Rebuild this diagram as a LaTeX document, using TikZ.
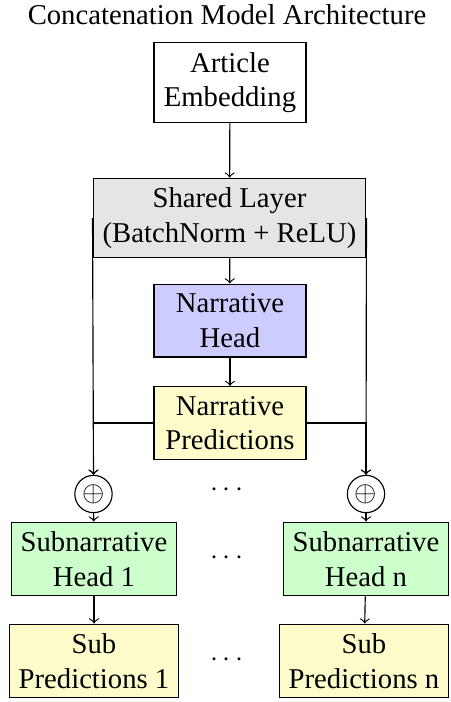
\documentclass[tikz,border=0pt]{standalone}
\usepackage{fontspec}
\setmainfont{Liberation Serif}
\begin{document}
\begin{tikzpicture}[x=0.3484pt,y=-0.3484pt,
  box/.style={draw, align=center, inner sep=3.33pt},
  midbox/.style={box, minimum width=53pt},
  shared/.style={box, fill=gray!20},
  nhead/.style={midbox, fill=blue!20},
  pred/.style={box, fill=yellow!20},
  shead/.style={box, fill=green!20},
  plus/.style={draw, circle, minimum size=13pt, inner sep=0pt},
  arr/.style={->},
  dots/.style={inner sep=0pt}]
  \useasboundingbox (0,0) rectangle (450,702);
  \node (title) at (227,15) {Concatenation Model Architecture};
  \node[midbox] (art) at (230,82.5) {Article\\Embedding};
  \node[shared] (sh) at (229.5,218) {Shared Layer\\(BatchNorm + ReLU)};
  \node[nhead] (nh) at (230,320.5) {Narrative\\Head};
  \node[pred, minimum width=53pt] (np) at (230,423) {Narrative\\Predictions};
  \node[plus] (p1) at (93.5,494) {$\oplus$};
  \node[plus] (pn) at (366,494) {$\oplus$};
  \node[dots] (d1) at (227,490) {$\cdots$};
  \node[shead] (s1) at (94,559) {Subnarrative\\Head 1};
  \node[shead] (sn) at (366,559) {Subnarrative\\Head n};
  \node[dots] (d2) at (227,558) {$\cdots$};
  \node[pred] (sp1) at (94,661) {Sub\\Predictions 1};
  \node[pred] (spn) at (364,661) {Sub\\Predictions n};
  \node[dots] (d3) at (227,660) {$\cdots$};
  \draw[arr] (art) -- (sh);
  \draw[arr] (sh) -- (nh);
  \draw[arr] (nh) -- (np);
  \draw[arr] (sh.west) -- (p1.north);
  \draw[arr] (np.west) -| (p1.north);
  \draw[arr] (sh.east) -- (pn.north);
  \draw[arr] (np.east) -| (pn.north);
  \draw[arr] (p1) -- (s1);
  \draw[arr] (pn) -- (sn);
  \draw[arr] (s1) -- (sp1);
  \draw[arr] (sn) -- (spn);
\end{tikzpicture}
\end{document}
